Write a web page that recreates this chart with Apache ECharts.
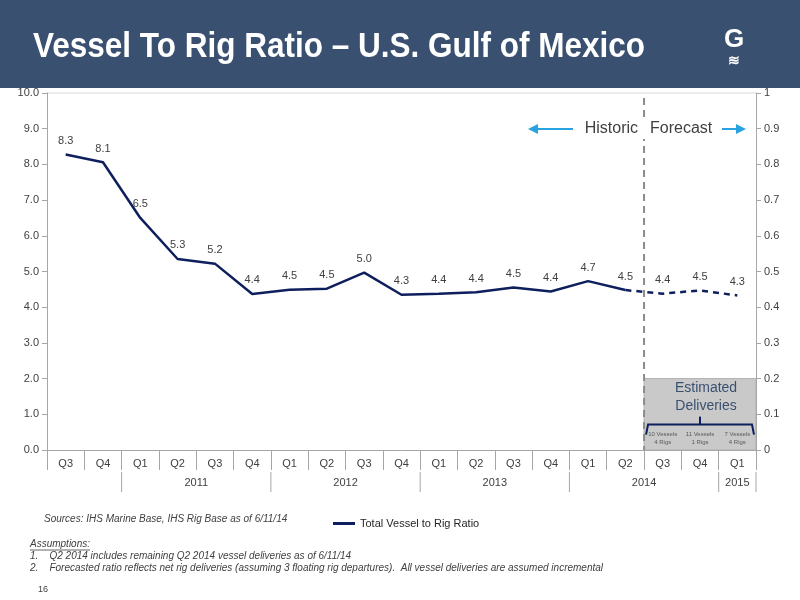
<!DOCTYPE html>
<html style="height: 100%">
<head>
<script src="https://cdn.jsdelivr.net/npm/echarts@6/dist/echarts.min.js"></script>
</head>
<body style="height: 100%; margin: 0">
<div id="target" style="width:800px;height:600px"></div>
<script>
const quarters = ["Q3","Q4","Q1","Q2","Q3","Q4","Q1","Q2","Q3","Q4","Q1","Q2","Q3","Q4","Q1","Q2","Q3","Q4","Q1"];
const historic = [8.28,8.06,6.5,5.35,5.22,4.37,4.49,4.52,4.97,4.35,4.38,4.42,4.55,4.44,4.73,4.48,null,null,null];
const forecast = [null,null,null,null,null,null,null,null,null,null,null,null,null,null,null,4.48,4.38,4.47,4.33];
const pointLabels = ["8.3","8.1","6.5","5.3","5.2","4.4","4.5","4.5","5.0","4.3","4.4","4.4","4.5","4.4","4.7","4.5","4.4","4.5","4.3"];
const years = [["2011",2,5],["2012",6,9],["2013",10,13],["2014",14,17],["2015",18,18]];
const yearSeps = [1.5,5.5,9.5,13.5,17.5,18.5];
const deliveries = ["10 Vessels\n4 Rigs","11 Vessels\n1 Rigs","7 Vessels\n4 Rigs"];

const chart = echarts.init(document.getElementById('target'));
const font = "Liberation Sans, Arial, sans-serif";
const axisGray = "#a6a6a6";

const lbl = {
    show: true, position: "top", distance: 8, color: "#404040", fontSize: 11, fontFamily: font
};

chart.setOption({
    animation: false,
    textStyle: { fontFamily: font },
    grid: { left: 47, right: 44, top: 93, bottom: 150 },
    xAxis: {
        type: "category", data: quarters,
        axisLine: { lineStyle: { color: axisGray } },
        axisTick: { show: true, length: 20, lineStyle: { color: axisGray } },
        axisLabel: { color: "#404040", fontSize: 11, margin: 8 }
    },
    yAxis: [
        { type: "value", min: 0, max: 10, interval: 1, position: "left",
          axisLine: { show: true, lineStyle: { color: axisGray } },
          axisTick: { show: true, lineStyle: { color: axisGray } },
          splitLine: { show: false },
          axisLabel: { color: "#404040", fontSize: 11, formatter: v => v.toFixed(1) } },
        { type: "value", min: 0, max: 1, interval: 0.1, position: "right",
          axisLine: { show: true, lineStyle: { color: axisGray } },
          axisTick: { show: true, lineStyle: { color: axisGray } },
          splitLine: { show: false },
          axisLabel: { color: "#404040", fontSize: 11, formatter: v => v === 0 ? "0" : v === 1 ? "1" : v.toFixed(1) } }
    ],
    legend: {
        data: [{ name: "Total Vessel to Rig Ratio", icon: "rect" }],
        left: 328, top: 513, itemWidth: 22, itemHeight: 3, itemGap: 4,
        textStyle: { fontSize: 11, color: "#262626" }
    },
    series: [
        { name: "Total Vessel to Rig Ratio", type: "line", data: historic, symbol: "circle", symbolSize: 0.1,
          lineStyle: { color: "#0d1f5c", width: 2.5 }, itemStyle: { color: "#0d1f5c" },
          label: Object.assign({}, lbl, { formatter: p => p.dataIndex === 15 ? "" : pointLabels[p.dataIndex] }) },
        { name: "Forecast", type: "line", data: forecast, symbol: "circle", symbolSize: 0.1,
          itemStyle: { color: "#0d1f5c" },
          lineStyle: { color: "#0d1f5c", width: 2.5, type: [6, 5] },
          label: Object.assign({}, lbl, { formatter: p => pointLabels[p.dataIndex] }) }
    ]
});

function px(x, y) { return chart.convertToPixel({ xAxisIndex: 0, yAxisIndex: 0 }, [x, y]); }
const step = px(1, 0)[0] - px(0, 0)[0];
function xAt(i) { return px(0, 0)[0] + i * step; }
const y0 = px(0, 0)[1], y10 = px(0, 10)[1], y2 = px(0, 2)[1];
const gfx = [];

// header
gfx.push({ type: "rect", shape: { x: 0, y: 0, width: 800, height: 88 }, style: { fill: "#3a5070" }, z: 100 });
gfx.push({ type: "text", x: 33, y: 47, scaleX: 0.9, style: { text: "Vessel To Rig Ratio \u2013 U.S. Gulf of Mexico", fill: "#fff", font: "bold 35px " + font, textVerticalAlign: "middle" }, z: 101 });
gfx.push({ type: "text", x: 734, y: 40, style: { text: "G", fill: "#fff", font: "bold 26px " + font, textAlign: "center", textVerticalAlign: "middle" }, z: 101 });
gfx.push({ type: "text", x: 734, y: 61, style: { text: "≋", fill: "#fff", font: "bold 14px " + font, textAlign: "center", textVerticalAlign: "middle" }, z: 101 });
// top border
gfx.push({ type: "line", shape: { x1: xAt(-0.5), y1: y10, x2: xAt(18.5), y2: y10 }, style: { stroke: "#d9d9d9" } });

// estimated deliveries box
const bx = xAt(15.5), bw = xAt(18.5) - bx;
gfx.push({ type: "rect", shape: { x: bx, y: y2, width: bw, height: y0 - y2 }, style: { fill: "#c9c9c9", stroke: "#b0b0b0" } });
gfx.push({ type: "text", x: bx + bw / 2 + 6, y: y2 + 19, style: { text: "Estimated\nDeliveries", fill: "#3a5070", font: "14px " + font, textAlign: "center", textVerticalAlign: "middle", lineHeight: 18 } });
const by = y2 + 46;
gfx.push({ type: "polyline", shape: { points: [[bx + 2, by + 10], [bx + 4, by], [bx + bw - 4, by], [bx + bw - 2, by + 10]] }, style: { stroke: "#0d1f5c", lineWidth: 2, fill: null } });
gfx.push({ type: "line", shape: { x1: bx + bw / 2, y1: by, x2: bx + bw / 2, y2: by - 8 }, style: { stroke: "#0d1f5c", lineWidth: 2 } });
deliveries.forEach((t, i) => gfx.push({ type: "text", x: xAt(16 + i), y: by + 14, style: { text: t, fill: "#595959", font: "6px " + font, textAlign: "center", textVerticalAlign: "middle", lineHeight: 8 } }));

// historic / forecast divider
gfx.push({ type: "line", shape: { x1: bx, y1: y10 + 5, x2: bx, y2: y0 }, style: { stroke: "#8c8c8c", lineWidth: 2, lineDash: [7, 5] }, z: 5 });
gfx.push({ type: "rect", shape: { x: bx - 6, y: 119, width: 12, height: 20 }, style: { fill: "#fff" }, z: 6 });
gfx.push({ type: "text", x: bx - 6, y: 129, style: { text: "Historic", fill: "#404040", font: "16px " + font, textAlign: "right", textVerticalAlign: "middle" }, z: 7 });
gfx.push({ type: "text", x: bx + 6, y: 129, style: { text: "Forecast", fill: "#404040", font: "16px " + font, textAlign: "left", textVerticalAlign: "middle" }, z: 7 });
const arrowC = "#29a3e0";
gfx.push({ type: "line", shape: { x1: 534, y1: 129, x2: 573, y2: 129 }, style: { stroke: arrowC, lineWidth: 2 } });
gfx.push({ type: "polygon", shape: { points: [[528, 129], [538, 124], [538, 134]] }, style: { fill: arrowC } });
gfx.push({ type: "line", shape: { x1: 722, y1: 129, x2: 740, y2: 129 }, style: { stroke: arrowC, lineWidth: 2 } });
gfx.push({ type: "polygon", shape: { points: [[746, 129], [736, 124], [736, 134]] }, style: { fill: arrowC } });

// year row
const yr = y0 + 22;
yearSeps.forEach(s => gfx.push({ type: "line", shape: { x1: xAt(s), y1: yr, x2: xAt(s), y2: yr + 20 }, style: { stroke: axisGray } }));
years.forEach(([t, a, b]) => gfx.push({ type: "text", x: (xAt(a) + xAt(b)) / 2, y: yr + 11, style: { text: t, fill: "#404040", font: "11px " + font, textAlign: "center", textVerticalAlign: "middle" } }));

// footer
const ft = "italic 10px " + font;
gfx.push({ type: "text", x: 44, y: 519, style: { text: "Sources: IHS Marine Base, IHS Rig Base as of 6/11/14", fill: "#404040", font: ft, textVerticalAlign: "middle" } });
gfx.push({ type: "text", x: 30, y: 544, style: { text: "Assumptions:", fill: "#404040", font: ft, textVerticalAlign: "middle" } });
gfx.push({ type: "line", shape: { x1: 30, y1: 550, x2: 90, y2: 550 }, style: { stroke: "#404040", lineWidth: 0.8 } });
gfx.push({ type: "text", x: 30, y: 556, style: { text: "1.    Q2 2014 includes remaining Q2 2014 vessel deliveries as of 6/11/14", fill: "#404040", font: ft, textVerticalAlign: "middle" } });
gfx.push({ type: "text", x: 30, y: 568, style: { text: "2.    Forecasted ratio reflects net rig deliveries (assuming 3 floating rig departures).  All vessel deliveries are assumed incremental", fill: "#404040", font: ft, textVerticalAlign: "middle" } });
gfx.push({ type: "text", x: 38, y: 590, style: { text: "16", fill: "#404040", font: "9px " + font, textVerticalAlign: "middle" } });

chart.setOption({ graphic: gfx });
</script>
</body>
</html>
